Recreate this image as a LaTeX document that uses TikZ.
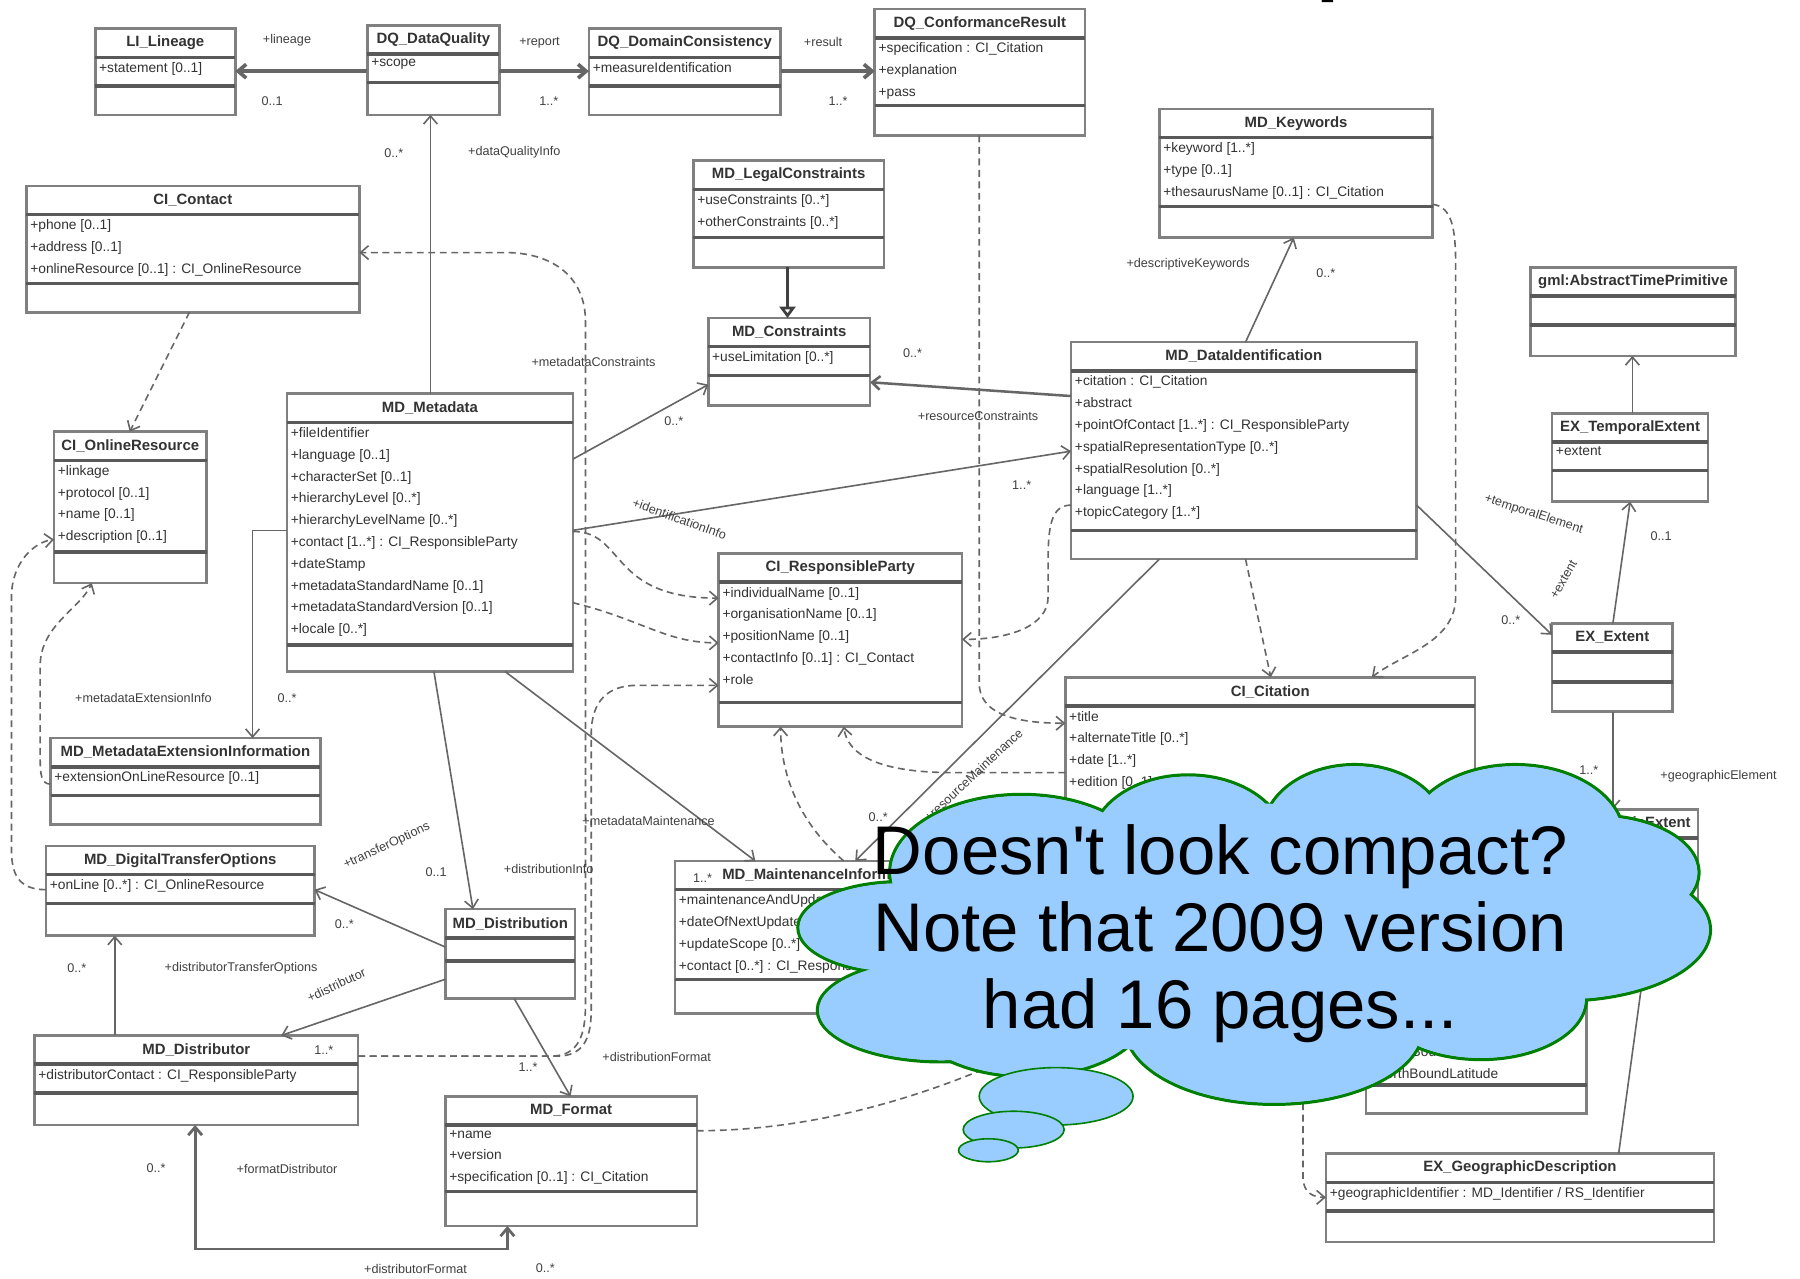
\documentclass[tikz,border=0pt]{standalone}
\usepackage{fontspec}
\setmainfont{Liberation Sans}
\usetikzlibrary{arrows.meta}
\definecolor{cloudblue}{HTML}{99CCFF}
\definecolor{cloudgreen}{HTML}{008000}
\tikzset{
  classbox/.style={draw=black!50, line width=1.1pt, fill=white, inner sep=0pt, outer sep=0pt, anchor=north west},
  classtitle/.style={font=\bfseries\fontsize{6.5}{7}\selectfont, text=black!80, inner sep=0pt},
  classattr/.style={anchor=north west, align=left, font=\fontsize{6}{9.5}\selectfont, text=black!80, inner xsep=1.5pt, inner ysep=2pt},
  classline/.style={draw=black!65, line width=1.5pt},
  assoc/.style={draw=black!60, line width=0.7pt, -{Straight Barb[length=3.5pt,width=6pt]}},
  dep/.style={assoc, dash pattern=on 3pt off 2pt},
  gen/.style={draw=black!75, line width=1.2pt, -{Triangle[open,length=5pt,width=7pt]}},
  lbl/.style={font=\fontsize{5.5}{6}\selectfont, text=black!75, inner sep=1pt},
  puffedge/.style={draw=cloudgreen, line width=1.4pt, fill=cloudblue},
  pufffill/.style={fill=cloudblue},
  bubble/.style={draw=cloudgreen, line width=0.7pt, fill=cloudblue},
  cloudtext/.style={font=\fontsize{30}{33.5}\selectfont, align=center, text=black}
}
% class box: name, x, y, width, attribute height, operation height, title, attributes
\newcommand{\umlclass}[8]{%
  \node[classbox, minimum width=#4*0.5pt, minimum height={(25+#5+#6)*0.5pt}] (#1) at (#2,#3) {};
  \node[classtitle] (#1-title) at ([yshift=-6.25pt]#1.north) {#7};
  \draw[classline] ([yshift=-12.5pt]#1.north west) -- ([yshift=-12.5pt]#1.north east);
  \draw[classline] ([yshift={-(25+#5)*0.5pt}]#1.north west) -- ([yshift={-(25+#5)*0.5pt}]#1.north east);
  \node[classattr] (#1-attrs) at ([yshift=-12.5pt]#1.north west) {#8};
}
\def\cloudpuffs{785/808/90/40, 820/880/108/45, 890/760/115/68, 1035/735/85/60, 1180/725/80/59, 1320/730/95/64, 1390/760/90/50, 1360/810/130/62, 1290/870/92/53, 1110/895/130/67, 895/880/105/58}

\begin{document}
\begin{tikzpicture}[x=0.5pt,y=-0.5pt]
  \useasboundingbox (0,0) rectangle (1568,1114);
  \fill[white] (0,0) rectangle (1568,1114);
  % slide title, cut off at the top
  \node[anchor=base, font=\bfseries\fontsize{36}{36}\selectfont] (slideTitle) at (1169,-13) {p};

  % Classes
  \umlclass{lineage}{83}{25}{122}{25}{25}{LI\_Lineage}{+statement [0..1]}
  \umlclass{dataQuality}{320}{22}{115}{25}{28}{DQ\_DataQuality}{+scope}
  \umlclass{domainCons}{513}{25}{167}{25}{25}{DQ\_DomainConsistency}{+measureIdentification}
  \umlclass{conformance}{762}{8}{183}{59}{26}{DQ\_ConformanceResult}{+specification : CI\_Citation\\+explanation\\+pass}
  \umlclass{contact}{23}{162}{290}{60}{25}{CI\_Contact}{+phone [0..1]\\+address [0..1]\\+onlineResource [0..1] : CI\_OnlineResource}
  \umlclass{legal}{604}{140}{166}{42}{26}{MD\_LegalConstraints}{+useConstraints [0..*]\\+otherConstraints [0..*]}
  \umlclass{constraints}{617}{277}{141}{25}{26}{MD\_Constraints}{+useLimitation [0..*]}
  \umlclass{keywords}{1010}{95}{238}{60}{27}{MD\_Keywords}{+keyword [1..*]\\+type [0..1]\\+thesaurusName [0..1] : CI\_Citation}
  \umlclass{timePrim}{1333}{233}{179}{25}{27}{gml:AbstractTimePrimitive}{}
  \umlclass{temporal}{1352}{360}{136}{25}{27}{EX\_TemporalExtent}{+extent}
  \umlclass{dataIdent}{933}{298}{301}{139}{25}{MD\_DataIdentification}{+citation : CI\_Citation\\+abstract\\+pointOfContact [1..*] : CI\_ResponsibleParty\\+spatialRepresentationType [0..*]\\+spatialResolution [0..*]\\+language [1..*]\\+topicCategory [1..*]}
  \umlclass{onlineRes}{47}{376}{133}{80}{27}{CI\_OnlineResource}{+linkage\\+protocol [0..1]\\+name [0..1]\\+description [0..1]}
  \umlclass{metadata}{250}{343}{249}{194}{23}{MD\_Metadata}{+fileIdentifier\\+language [0..1]\\+characterSet [0..1]\\+hierarchyLevel [0..*]\\+hierarchyLevelName [0..*]\\+contact [1..*] : CI\_ResponsibleParty\\+dateStamp\\+metadataStandardName [0..1]\\+metadataStandardVersion [0..1]\\+locale [0..*]}
  \umlclass{respParty}{626}{482}{212}{105}{21}{CI\_ResponsibleParty}{+individualName [0..1]\\+organisationName [0..1]\\+positionName [0..1]\\+contactInfo [0..1] : CI\_Contact\\+role}
  \umlclass{extent}{1352}{543}{105}{26}{26}{EX\_Extent}{}
  \umlclass{citation}{928}{590}{357}{171}{25}{CI\_Citation}{+title\\+alternateTitle [0..*]\\+date [1..*]\\+edition [0..1]}
  \umlclass{extInfo}{44}{643}{235}{25}{25}{MD\_MetadataExtensionInformation}{+extensionOnLineResource [0..1]}
  \umlclass{digital}{40}{737}{234}{25}{28}{MD\_DigitalTransferOptions}{+onLine [0..*] : CI\_OnlineResource}
  \umlclass{distribution}{388}{792}{113}{20}{33}{MD\_Distribution}{}
  \umlclass{maintenance}{588}{750}{260}{78}{30}{MD\_MaintenanceInformation}{+maintenanceAndUpdateFrequency\\+dateOfNextUpdate [0..1]\\+updateScope [0..*]\\+contact [0..*] : CI\_ResponsibleParty}
  \umlclass{distributor}{30}{902}{282}{25}{28}{MD\_Distributor}{+distributorContact : CI\_ResponsibleParty}
  \umlclass{format}{388}{955}{219}{58}{30}{MD\_Format}{+name\\+version\\+specification [0..1] : CI\_Citation}
  \umlclass{bbox}{1190}{844}{192}{76}{25}{EX\_GeographicBoundingBox}{+westBoundLongitude\\+eastBoundLongitude\\+southBoundLatitude\\+northBoundLatitude}
  \umlclass{geoExtent}{1330}{705}{149}{25}{30}{EX\_GeographicExtent}{}
  \umlclass{geoDesc}{1155}{1005}{338}{25}{27}{EX\_GeographicDescription}{+geographicIdentifier : MD\_Identifier / RS\_Identifier}

  % Data quality
  \draw[assoc, line width=1.6pt] (dataQuality.west |- 0,62) -- (lineage.east |- 0,62);
  \node[lbl] (lLineage) at (250,35) {+lineage};
  \node[lbl] (mLineage) at (237,88) {0..1};
  \draw[assoc, line width=1.6pt] (dataQuality.east |- 0,62) -- (domainCons.west |- 0,62);
  \node[lbl] (lReport) at (470,37) {+report};
  \node[lbl] (mReport) at (478,88) {1..*};
  \draw[assoc, line width=1.6pt] (domainCons.east |- 0,62) -- (conformance.west |- 0,62);
  \node[lbl] (lResult) at (717,37) {+result};
  \node[lbl] (mResult) at (730,88) {1..*};
  \draw[assoc] (metadata.north -| 375,0) -- (dataQuality.south -| 375,0);
  \node[lbl] (mDQ) at (343,133) {0..*};
  \node[lbl] (lDQ) at (448,133) {+dataQualityInfo};
  \draw[dep] (conformance.south -| 853,0) -- (853,595) .. controls (853,620) and (880,630) .. (citation.west |- 0,630);

  % Constraints
  \draw[gen] (legal.south -| 686,0) -- (constraints.north -| 686,0);
  \draw[assoc] (metadata.east |- 0,400) -- (constraints.west |- 0,335);
  \node[lbl] (mMdCons) at (587,367) {0..*};
  \node[lbl] (lMdCons) at (517,315) {+metadataConstraints};
  \draw[assoc, line width=1.1pt] (dataIdent.west |- 0,345) -- (constraints.east |- 0,333);
  \node[lbl] (mResCons) at (795,308) {0..*};
  \node[lbl] (lResCons) at (852,362) {+resourceConstraints};

  % Identification
  \draw[assoc] (metadata.east |- 0,462) -- (dataIdent.west |- 0,393);
  \node[lbl, rotate=-20] (lIdent) at (592,452) {+identificationInfo};
  \node[lbl] (mIdent) at (890,423) {1..*};
  \draw[assoc] (dataIdent.north -| 1085,0) -- (keywords.south -| 1127,0);
  \node[lbl] (lKeywords) at (1035,230) {+descriptiveKeywords};
  \node[lbl] (mKeywords) at (1155,238) {0..*};
  \draw[dep] (keywords.east |- 0,178) .. controls (1265,180) and (1268,200) .. (1268,230) -- (1268,520) .. controls (1268,560) and (1220,570) .. (citation.north -| 1195,0);
  \draw[dep] (dataIdent.south -| 1085,0) -- (citation.north -| 1107,0);
  \draw[dep] (dataIdent.west |- 0,440) .. controls (915,440) and (913,460) .. (913,490) -- (913,520) .. controls (913,545) and (880,557) .. (respParty.east |- 0,557);

  % Extent
  \draw[assoc] (dataIdent.east |- 0,440) -- (extent.west |- 0,553);
  \node[lbl] (mExtent) at (1316,540) {0..*};
  \node[lbl, rotate=60] (lExtent) at (1362,505) {+extent};
  \draw[assoc] (extent.north -| 1405,0) -- (temporal.south -| 1420,0);
  \node[lbl] (mTemporal) at (1447,467) {0..1};
  \node[lbl, rotate=-18] (lTemporal) at (1336,448) {+temporalElement};
  \draw[assoc] (temporal.north -| 1422,0) -- (timePrim.south -| 1422,0);
  \draw[assoc] (extent.south -| 1405,0) -- (geoExtent.north -| 1405,0);
  \node[lbl] (mGeoElem) at (1384,671) {1..*};
  \node[lbl] (lGeoElem) at (1497,676) {+geographicElement};
  \draw[assoc] (geoDesc.north -| 1410,0) -- (geoExtent.south -| 1440,0);
  \draw[dep] (citation.south -| 1135,0) -- (1135,1025) .. controls (1135,1040) and (1145,1043) .. (geoDesc.west |- 0,1043);

  % Responsible party and contact
  \draw[dep] (metadata.east |- 0,463) .. controls (545,463) and (530,521) .. (respParty.west |- 0,521);
  \draw[dep] (metadata.east |- 0,525) .. controls (560,540) and (580,560) .. (respParty.west |- 0,560);
  \draw[dep] (distributor.east |- 0,920) -- (485,920) .. controls (508,920) and (515,905) .. (515,880) -- (515,640) .. controls (515,610) and (530,597) .. (555,597) -- (respParty.west |- 0,597);
  \draw[dep] (distributor.east |- 0,920) -- (480,920) .. controls (505,920) and (510,900) .. (510,875) -- (510,280) .. controls (510,240) and (480,220) .. (440,220) -- (contact.east |- 0,220);
  \draw[dep] (contact.south -| 165,0) -- (onlineRes.north -| 113,0);
  \draw[dep] (extInfo.west |- 0,683) .. controls (36,683) and (35,675) .. (35,660) -- (35,580) .. controls (35,545) and (70,530) .. (onlineRes.south -| 80,0);
  \draw[dep] (digital.west |- 0,775) .. controls (15,775) and (10,760) .. (10,740) -- (10,520) .. controls (10,490) and (30,472) .. (onlineRes.west |- 0,470);
  \draw[dep] (maintenance.north -| 735,0) .. controls (700,720) and (680,680) .. (respParty.south -| 680,0);
  \draw[dep] (citation.west |- 0,673) -- (830,673) .. controls (760,673) and (738,655) .. (respParty.south -| 735,0);

  % Metadata extension, distribution, maintenance
  \draw[assoc] (metadata.west |- 0,462) -- (220,462) -- (extInfo.north -| 220,0);
  \node[lbl] (lExtInfo) at (125,608) {+metadataExtensionInfo};
  \node[lbl] (mExtInfo) at (250,608) {0..*};
  \draw[assoc] (metadata.south -| 378,0) -- (distribution.north -| 412,0);
  \node[lbl] (mDistInfo) at (380,760) {0..1};
  \node[lbl] (lDistInfo) at (478,757) {+distributionInfo};
  \draw[assoc] (metadata.south -| 440,0) -- (maintenance.north -| 658,0);
  \node[lbl] (lMdMaint) at (565,715) {+metadataMaintenance};
  \node[lbl] (mMdMaint) at (612,765) {1..*};
  \draw[assoc] (dataIdent.south -| 1010,0) -- (maintenance.north -| 745,0);
  \node[lbl] (mResMaint) at (765,712) {0..*};
  \node[lbl, rotate=43] (lResMaint) at (848,675) {+resourceMaintenance};

  % Distribution
  \draw[assoc] (distribution.west |- 0,825) -- (digital.east |- 0,775);
  \node[lbl] (mTransfer) at (300,805) {0..*};
  \node[lbl, rotate=25] (lTransfer) at (337,737) {+transferOptions};
  \draw[assoc] (distribution.west |- 0,853) -- (distributor.north -| 245,0);
  \node[lbl, rotate=25] (lDistributor) at (293,858) {+distributor};
  \node[lbl] (mDistributor) at (282,915) {1..*};
  \draw[assoc] (distributor.north -| 100,0) -- (digital.south -| 100,0);
  \node[lbl] (mDistTransfer) at (67,843) {0..*};
  \node[lbl] (lDistTransfer) at (210,843) {+distributorTransferOptions};
  \draw[assoc] (distribution.south -| 448,0) -- (format.north -| 497,0);
  \node[lbl] (mDistFormat) at (460,930) {1..*};
  \node[lbl] (lDistFormat) at (572,921) {+distributionFormat};
  \draw[assoc, line width=1.2pt, {Straight Barb[length=3.5pt,width=6pt]}-{Straight Barb[length=3.5pt,width=6pt]}] (distributor.south -| 170,0) -- (170,1088) -- (442,1088) -- (format.south -| 442,0);
  \node[lbl] (mFmtDist) at (136,1018) {0..*};
  \node[lbl] (lFmtDist) at (250,1018) {+formatDistributor};
  \node[lbl] (lDistrFmt) at (362,1105) {+distributorFormat};
  \node[lbl] (mDistrFmt) at (475,1105) {0..*};
  \coordinate (fmtEnd) at (900,912);
  \draw[dep] (format.east |- 0,985) .. controls (700,985) and (800,960) .. (fmtEnd);

  % Callout cloud
  \foreach \cx/\cy/\rx/\ry in \cloudpuffs
    \draw[puffedge] (\cx,\cy) ellipse [x radius=\rx*0.5pt, y radius=\ry*0.5pt];
  \foreach \cx/\cy/\rx/\ry in \cloudpuffs
    \fill[pufffill] (\cx,\cy) ellipse [x radius=\rx*0.5pt-0.7pt, y radius=\ry*0.5pt-0.7pt];
  \fill[pufffill] (1090,810) ellipse [x radius=165pt, y radius=55pt];
  \draw[bubble] (920,955) ellipse [x radius=33.5pt, y radius=12.5pt];
  \draw[bubble] (883,984) ellipse [x radius=22pt, y radius=8pt];
  \draw[bubble] (861,1002) ellipse [x radius=13pt, y radius=5pt];
  \node[cloudtext] (note) at (1063,813) {Doesn\textquotesingle t look compact?\\Note that 2009 version\\had 16 pages...};
\end{tikzpicture}
\end{document}
